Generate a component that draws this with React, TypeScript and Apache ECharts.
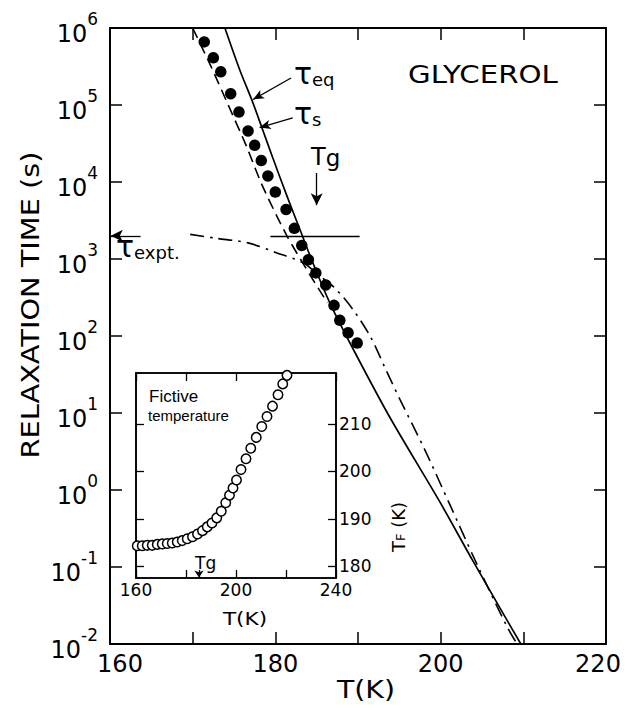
import React, { useEffect, useRef } from "react";
import * as echarts from "echarts";

const FONT = "DejaVu Sans";

// Main panel: relaxation times of glycerol versus temperature
// Measured structural relaxation times (filled circles)
const tempTauS = [171.4, 172.5, 173.4, 174.6, 175.6, 176.7, 177.5, 178.3, 179.1, 180.0, 181.3, 182.3, 183.2, 184.0, 184.9, 186.1, 187.1, 187.8, 188.8, 189.9];
const tauS = [6.6e5, 4.1e5, 2.7e5, 1.4e5, 8.1e4, 4.6e4, 3.0e4, 1.9e4, 1.2e4, 7.4e3, 4.4e3, 2.5e3, 1.5e3, 980, 660, 460, 250, 160, 110, 81];

// Equilibrium relaxation time (solid curve)
const tempTauEq = [173.9, 175.7, 177.2, 178.4, 179.7, 181.4, 183.0, 184.6, 186.6, 189.6, 193.9, 199.9, 203.9, 207.2, 209.7];
const tauEq = [1e6, 2.85e5, 1.13e5, 5.0e4, 2.05e4, 6.6e3, 2.38e3, 860, 268, 62, 8.6, 0.70, 0.12, 0.029, 0.01];

// Dashed curve
const tempDashed = [170.0, 172.2, 174.3, 176.4, 178.4, 181.4, 184.2, 186.3];
const tauDashed = [1e6, 3.2e5, 1e5, 3.1e4, 9.1e3, 2.0e3, 620, 270];

// Relaxation time on cooling (dash-dot curve)
const tempExpt = [169.7, 172.8, 176.7, 180.2, 183.4, 185.2, 187.2, 189.4, 191.5, 193.3, 195.1, 198.1, 201.1, 204.2, 208.0, 209.2];
const tauExpt = [2090, 1860, 1620, 1200, 890, 620, 420, 220, 98, 38, 14.8, 3.3, 0.65, 0.12, 0.017, 0.0102];

// Reference levels and markers
const tauExptLevel = 2000;
const tgMain = 185.0;

// Inset: fictive temperature on cooling
const insetTemp = [160.5, 162.5, 164.5, 166.5, 168.5, 170.5, 172.5, 174.5, 176.5, 178.5, 180.5, 182.6, 184.6, 186.6, 188.5, 190.4, 192.3, 194.1, 195.9, 197.4, 198.8, 200.2, 202.0, 204.0, 205.9, 208.1, 210.3, 212.4, 214.6, 216.8, 218.7, 220.4];
const insetTF = [184.3, 184.3, 184.4, 184.4, 184.6, 184.7, 184.8, 184.9, 185.1, 185.4, 185.8, 186.2, 186.8, 187.5, 188.3, 189.1, 190.2, 191.6, 193.4, 195.0, 196.5, 198.2, 200.4, 202.7, 204.9, 207.2, 209.5, 211.6, 213.8, 216.2, 218.5, 220.3];
const tgInset = 185.2;

// Tick labels
const mainXLabels = [160, 180, 200, 220];
const insetXLabels = [160, 200, 240];
const insetYLabels = [180, 190, 200, 210];

const pairs = (xs: number[], ys: number[]) => xs.map((x, i) => [x, ys[i]]);

const black = "#000";

const tickLabelRich = {
  b: { fontFamily: FONT, fontSize: 24, color: black, lineHeight: 36, verticalAlign: "bottom" },
  s: { fontFamily: FONT, fontSize: 17, color: black, lineHeight: 12, verticalAlign: "top" },
};

const xLabelRich = {
  n: { fontFamily: FONT, fontSize: 24, color: black },
  l: { fontFamily: FONT, fontSize: 24, color: black, padding: [0, 0, 0, 20] },
  r: { fontFamily: FONT, fontSize: 24, color: black, padding: [0, 16, 0, 0] },
};

const tauRich = {
  t: { fontFamily: FONT, fontSize: 30, lineHeight: 30, padding: [0, 0, 6, 0], verticalAlign: "top", fill: black, color: black },
  s: { fontFamily: FONT, fontSize: 18, lineHeight: 18, verticalAlign: "bottom", fill: black, color: black },
};

const tgRich = (big: number, small: number, drop: number) => ({
  T: { fontFamily: FONT, fontSize: big, lineHeight: big, padding: [0, 0, drop, 0], verticalAlign: "top", fill: black, color: black },
  g: { fontFamily: FONT, fontSize: small, lineHeight: big, verticalAlign: "bottom", fill: black, color: black },
});

const axisLineStyle = { color: black, width: 2 };
const tickStyle = { color: black, width: 1.5 };

function buildOption(): any {
  const mainX = (position: "bottom" | "top", labels: boolean) => ({
    gridIndex: 0,
    type: "value",
    min: 160,
    max: 220,
    interval: 10,
    position,
    axisLine: { show: true, onZero: false, lineStyle: axisLineStyle },
    axisTick: { show: true, inside: true, length: 12, lineStyle: tickStyle },
    axisLabel: labels
      ? {
          show: true,
          margin: 8,
          color: black,
          fontFamily: FONT,
          fontSize: 24,
          rich: xLabelRich,
          formatter: (v: number) => {
            if (!mainXLabels.includes(v)) return "";
            if (v === mainXLabels[0]) return `{l|${v}}`;
            if (v === mainXLabels[mainXLabels.length - 1]) return `{r|${v}}`;
            return `{n|${v}}`;
          },
        }
      : { show: false },
    splitLine: { show: false },
  });

  const mainY = (position: "left" | "right", labels: boolean) => ({
    gridIndex: 0,
    type: "log",
    logBase: 10,
    min: 0.01,
    max: 1e6,
    splitNumber: 8,
    position,
    axisLine: { show: true, onZero: false, lineStyle: axisLineStyle },
    axisTick: { show: true, inside: true, length: 12, lineStyle: tickStyle },
    minorTick: { show: false },
    axisLabel: labels
      ? {
          show: true,
          margin: 12,
          rich: tickLabelRich,
          formatter: (v: number) => `{b|10}{s|${Math.round(Math.log10(v))}}`,
        }
      : { show: false },
    splitLine: { show: false },
  });

  const insetX = (position: "bottom" | "top", labels: boolean) => ({
    gridIndex: 1,
    type: "value",
    min: 160,
    max: 240,
    interval: 20,
    position,
    axisLine: { show: true, onZero: false, lineStyle: { color: black, width: 1.6 } },
    axisTick: { show: true, inside: true, length: 8, lineStyle: { color: black, width: 1.3 } },
    axisLabel: labels
      ? {
          show: true,
          margin: 3,
          color: black,
          fontFamily: FONT,
          fontSize: 17,
          formatter: (v: number) => (insetXLabels.includes(v) ? String(v) : ""),
        }
      : { show: false },
    splitLine: { show: false },
  });

  const insetY = (position: "left" | "right", labels: boolean) => ({
    gridIndex: 1,
    type: "value",
    min: 177.5,
    max: 220.8,
    position,
    axisLine: { show: true, onZero: false, lineStyle: { color: black, width: 1.6 } },
    axisTick: { show: true, inside: true, length: 8, customValues: insetYLabels, lineStyle: { color: black, width: 1.3 } },
    axisLabel: labels
      ? { show: true, margin: 3, color: black, fontFamily: FONT, fontSize: 17, customValues: insetYLabels }
      : { show: false },
    splitLine: { show: false },
  });

  const arrowEnd = (from: number[], to: number[], size: number[] = [7, 11]) => [
    { coord: from, symbol: "none" },
    { coord: to, symbol: "arrow", symbolSize: size },
  ];

  return {
    animation: false,
    backgroundColor: "#fff",
    grid: [
      { left: 110, top: 28, width: 496, height: 616, show: false },
      { left: 136, top: 373, width: 200, height: 205, show: true, backgroundColor: "#fff", borderColor: black, borderWidth: 1.6 },
    ],
    xAxis: [mainX("bottom", true), mainX("top", false), insetX("bottom", true), insetX("top", false)],
    yAxis: [mainY("left", true), mainY("right", false), insetY("right", true), insetY("left", false)],
    series: [
      {
        name: "τeq",
        type: "line",
        xAxisIndex: 0,
        yAxisIndex: 0,
        data: pairs(tempTauEq, tauEq),
        smooth: 0.3,
        showSymbol: false,
        lineStyle: { color: black, width: 1.7 },
        markLine: {
          silent: true,
          animation: false,
          label: { show: false },
          lineStyle: { color: black, width: 1.3, type: "solid" },
          data: [
            arrowEnd([181.9, 2.24e5], [177.3, 1.18e5]),
            arrowEnd([182.1, 6.8e4], [178.1, 5.1e4]),
            arrowEnd([tgMain, 1.31e4], [tgMain, 5.0e3], [9, 12]),
            arrowEnd([163.7, tauExptLevel], [160.1, tauExptLevel], [9, 12]),
            [
              { coord: [179.4, tauExptLevel], symbol: "none" },
              { coord: [190.2, tauExptLevel], symbol: "none" },
            ],
          ],
        },
      },
      {
        name: "dashed",
        type: "line",
        xAxisIndex: 0,
        yAxisIndex: 0,
        data: pairs(tempDashed, tauDashed),
        smooth: 0.25,
        showSymbol: false,
        lineStyle: { color: black, width: 1.6, type: [11, 6] },
      },
      {
        name: "τexpt",
        type: "line",
        xAxisIndex: 0,
        yAxisIndex: 0,
        data: pairs(tempExpt, tauExpt),
        smooth: 0.3,
        showSymbol: false,
        lineStyle: { color: black, width: 1.6, type: [14, 6, 2.5, 6] },
      },
      {
        name: "τs",
        type: "scatter",
        xAxisIndex: 0,
        yAxisIndex: 0,
        data: pairs(tempTauS, tauS),
        symbol: "circle",
        symbolSize: 11.5,
        itemStyle: { color: black, opacity: 1 },
        emphasis: { disabled: true },
        z: 4,
      },
      {
        name: "TF",
        type: "scatter",
        xAxisIndex: 2,
        yAxisIndex: 2,
        data: pairs(insetTemp, insetTF),
        symbol: "circle",
        symbolSize: 9.5,
        clip: true,
        itemStyle: { color: "#fff", borderColor: black, borderWidth: 1.5, opacity: 1 },
        emphasis: { disabled: true },
        z: 6,
        markLine: {
          silent: true,
          animation: false,
          label: { show: false },
          lineStyle: { color: black, width: 1.3, type: "solid" },
          data: [arrowEnd([tgInset, 179.2], [tgInset, 177.6], [7, 7])],
        },
      },
    ],
    graphic: [
      {
        type: "text",
        x: 408,
        y: 74,
        scaleX: 1.17,
        z: 100,
        silent: true,
        style: { text: "GLYCEROL", fill: black, fontFamily: FONT, fontSize: 25, align: "left", verticalAlign: "middle", textAlign: "left", textVerticalAlign: "middle" },
      },
      {
        type: "text",
        x: 294,
        y: 58,
        z: 100,
        silent: true,
        style: { text: "{t|τ}{s|eq}", rich: tauRich, fill: black, align: "left", verticalAlign: "top", textAlign: "left", textVerticalAlign: "top" },
      },
      {
        type: "text",
        x: 294,
        y: 98,
        z: 100,
        silent: true,
        style: { text: "{t|τ}{s|s}", rich: tauRich, fill: black, align: "left", verticalAlign: "top", textAlign: "left", textVerticalAlign: "top" },
      },
      {
        type: "text",
        x: 116,
        y: 231,
        z: 100,
        silent: true,
        style: { text: "{t|τ}{s|expt.}", rich: tauRich, fill: black, align: "left", verticalAlign: "top", textAlign: "left", textVerticalAlign: "top" },
      },
      {
        type: "text",
        x: 311,
        y: 145,
        z: 100,
        silent: true,
        style: { text: "{T|T}{g|g}", rich: tgRich(24, 23, 4), fill: black, align: "left", verticalAlign: "top", textAlign: "left", textVerticalAlign: "top" },
      },
      {
        type: "text",
        x: 366,
        y: 690,
        scaleX: 1.18,
        z: 100,
        silent: true,
        style: { text: "T(K)", fill: black, fontFamily: FONT, fontSize: 24, align: "center", verticalAlign: "middle", textAlign: "center", textVerticalAlign: "middle" },
      },
      {
        type: "text",
        x: 30,
        y: 305,
        rotation: Math.PI / 2,
        scaleX: 1.2,
        z: 100,
        silent: true,
        style: { text: "RELAXATION TIME (s)", fill: black, fontFamily: FONT, fontSize: 24, align: "center", verticalAlign: "middle", textAlign: "center", textVerticalAlign: "middle" },
      },
      {
        type: "text",
        x: 149,
        y: 396,
        z: 100,
        silent: true,
        style: { text: "Fictive", fill: black, fontFamily: "Liberation Sans", fontSize: 17, align: "left", verticalAlign: "middle", textAlign: "left", textVerticalAlign: "middle" },
      },
      {
        type: "text",
        x: 148,
        y: 415,
        z: 100,
        silent: true,
        style: { text: "temperature", fill: black, fontFamily: "Liberation Sans", fontSize: 15, align: "left", verticalAlign: "middle", textAlign: "left", textVerticalAlign: "middle" },
      },
      {
        type: "text",
        x: 195,
        y: 554,
        z: 100,
        silent: true,
        style: { text: "{T|T}{g|g}", rich: tgRich(17, 17, 3), fill: black, align: "left", verticalAlign: "top", textAlign: "left", textVerticalAlign: "top" },
      },
      {
        type: "text",
        x: 245,
        y: 619,
        scaleX: 1.2,
        z: 100,
        silent: true,
        style: { text: "T(K)", fill: black, fontFamily: FONT, fontSize: 18, align: "center", verticalAlign: "middle", textAlign: "center", textVerticalAlign: "middle" },
      },
      {
        type: "text",
        x: 398,
        y: 527,
        rotation: Math.PI / 2,
        z: 100,
        silent: true,
        style: {
          text: "{a|T}{b|F}{a| (K)}",
          rich: {
            a: { fontFamily: FONT, fontSize: 18, lineHeight: 18, padding: [0, 0, 4, 0], verticalAlign: "top", fill: black, color: black },
            b: { fontFamily: FONT, fontSize: 13, lineHeight: 13, verticalAlign: "bottom", fill: black, color: black },
          },
          fill: black,
          align: "center",
          verticalAlign: "middle",
          textAlign: "center",
          textVerticalAlign: "middle",
        },
      },
    ],
  };
}

export default function App() {
  const ref = useRef<HTMLDivElement>(null);
  useEffect(() => {
    document.body.style.margin = "0";
    const chart = echarts.init(ref.current as HTMLDivElement, null, { renderer: "svg" });
    chart.setOption(buildOption());
    return () => chart.dispose();
  }, []);
  return <div ref={ref} style={{ width: 625, height: 712 }} />;
}
